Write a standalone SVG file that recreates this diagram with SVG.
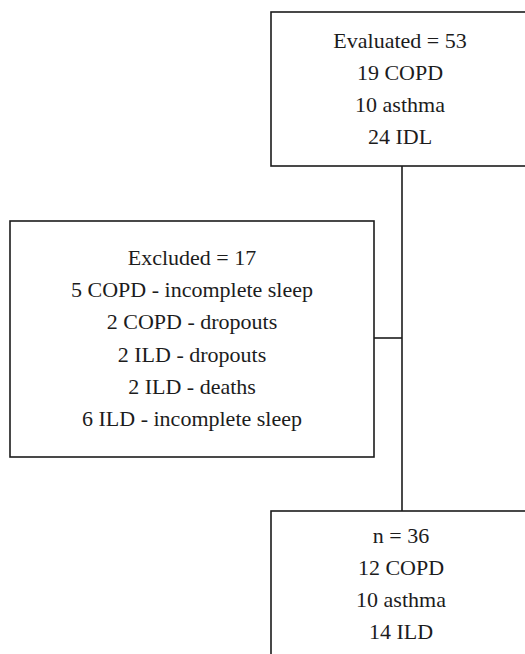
<svg xmlns="http://www.w3.org/2000/svg" width="525" height="654" viewBox="0 0 525 654">
<style>
.box{fill:#fff;stroke:#1c1c1c;stroke-width:1.6}
.ln{fill:none;stroke:#1c1c1c;stroke-width:1.6}
.t{font-family:'Liberation Serif','Times New Roman',Tinos,'DejaVu Serif',serif;font-size:22px;fill:#1c1c1c;text-anchor:middle}
</style>
<rect width="525" height="654" fill="#fff"/>
<g id="connectors">
<line class="ln" x1="402" y1="166" x2="402" y2="511"/>
<line class="ln" x1="374" y1="338" x2="402" y2="338"/>
</g>
<g id="evaluated" class="t" font-family="Liberation Serif, serif">
<rect class="box" x="271" y="12" width="262" height="154"/>
<text x="400" y="48">Evaluated = 53</text>
<text x="400" y="80">19 COPD</text>
<text x="400" y="112">10 asthma</text>
<text x="400" y="144">24 IDL</text>
</g>
<g id="excluded" class="t" font-family="Liberation Serif, serif">
<rect class="box" x="10" y="221" width="364" height="236"/>
<text x="192" y="265">Excluded = 17</text>
<text x="192" y="297">5 COPD - incomplete sleep</text>
<text x="192" y="329">2 COPD - dropouts</text>
<text x="192" y="362">2 ILD - dropouts</text>
<text x="192" y="394">2 ILD - deaths</text>
<text x="192" y="426">6 ILD - incomplete sleep</text>
</g>
<g id="final" class="t" font-family="Liberation Serif, serif">
<rect class="box" x="271" y="511" width="262" height="160"/>
<text x="401" y="543">n = 36</text>
<text x="401" y="575">12 COPD</text>
<text x="401" y="607">10 asthma</text>
<text x="401" y="639">14 ILD</text>
</g>
</svg>
